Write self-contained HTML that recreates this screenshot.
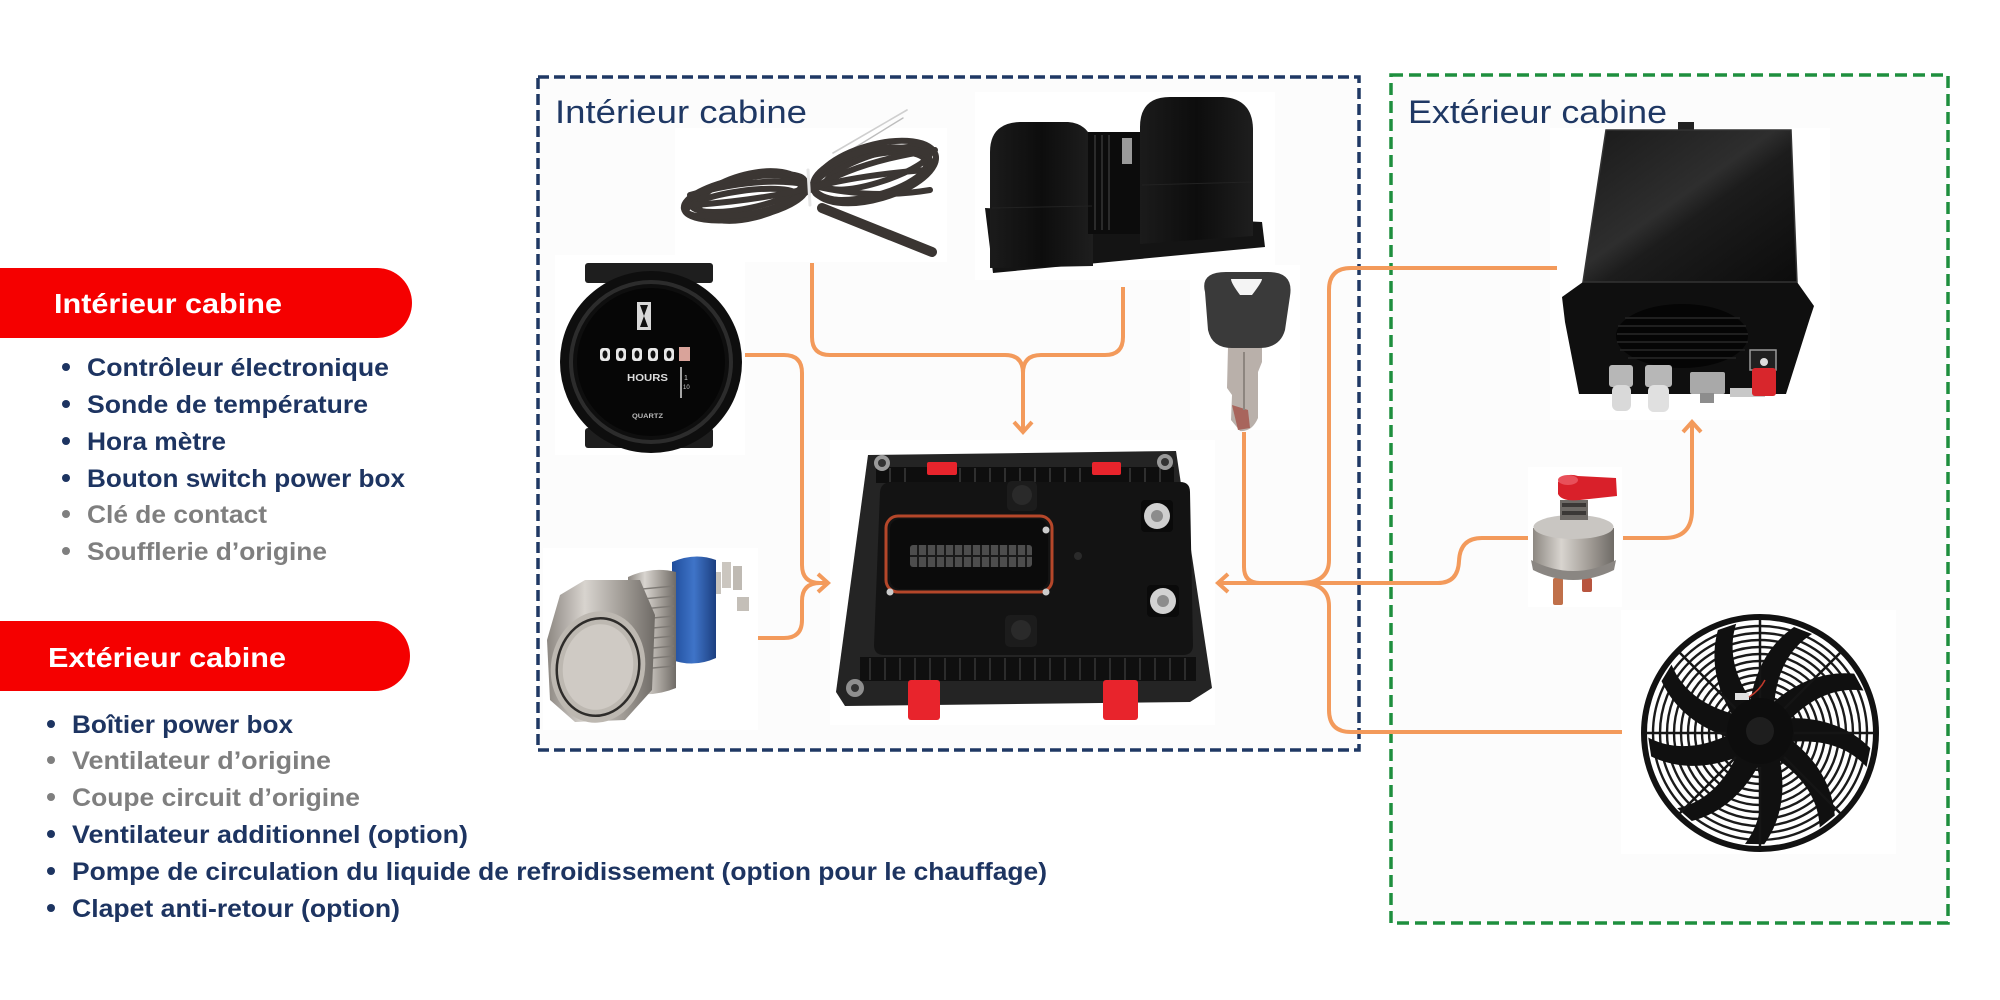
<!DOCTYPE html>
<html>
<head>
<meta charset="utf-8">
<style>
  html,body{margin:0;padding:0;background:#ffffff;}
  svg{display:block;}
  .lst{font-family:"Liberation Sans",Arial,sans-serif;font-weight:bold;font-size:25px;}
  .pill{font-family:"Liberation Sans",Arial,sans-serif;font-weight:bold;font-size:28px;fill:#ffffff;}
  .ttl{font-family:"Liberation Sans",Arial,sans-serif;font-size:32px;fill:#1f3864;}
  .con{fill:none;stroke:#f39a5b;stroke-width:4;}
</style>
</head>
<body>
<svg width="2000" height="1000" viewBox="0 0 2000 1000" xmlns="http://www.w3.org/2000/svg">
  <defs>
    <linearGradient id="metal" x1="0" y1="0" x2="1" y2="0">
      <stop offset="0" stop-color="#8d8882"/>
      <stop offset="0.35" stop-color="#d8d4cf"/>
      <stop offset="0.7" stop-color="#a19c96"/>
      <stop offset="1" stop-color="#6f6b66"/>
    </linearGradient>
    <linearGradient id="lid" x1="0" y1="0" x2="1" y2="1">
      <stop offset="0" stop-color="#1a1a1a"/>
      <stop offset="0.45" stop-color="#2e2e2e"/>
      <stop offset="0.55" stop-color="#1c1c1c"/>
      <stop offset="1" stop-color="#0c0c0c"/>
    </linearGradient>
    <linearGradient id="drum" x1="0" y1="0" x2="1" y2="0">
      <stop offset="0" stop-color="#1b1b1b"/>
      <stop offset="0.5" stop-color="#0d0d0d"/>
      <stop offset="1" stop-color="#1e1e1e"/>
    </linearGradient>
    <linearGradient id="blue" x1="0" y1="0" x2="1" y2="0">
      <stop offset="0" stop-color="#1f4d9c"/>
      <stop offset="0.5" stop-color="#3f74c8"/>
      <stop offset="1" stop-color="#1c3f80"/>
    </linearGradient>
  </defs>

  <rect x="0" y="0" width="2000" height="1000" fill="#ffffff"/>

  <!-- ===== LEFT LEGEND ===== -->
  <rect x="-40" y="268" width="452" height="70" rx="35" ry="35" fill="#f50000"/>
  <text class="pill" x="54" y="313" textLength="228" lengthAdjust="spacingAndGlyphs">Intérieur cabine</text>

  <g class="lst">
    <circle cx="66" cy="367" r="4" fill="#1d3461"/>
    <text x="87" y="376" fill="#1d3461" textLength="302" lengthAdjust="spacingAndGlyphs">Contrôleur électronique</text>
    <circle cx="66" cy="404" r="4" fill="#1d3461"/>
    <text x="87" y="413" fill="#1d3461" textLength="281" lengthAdjust="spacingAndGlyphs">Sonde de température</text>
    <circle cx="66" cy="441" r="4" fill="#1d3461"/>
    <text x="87" y="450" fill="#1d3461" textLength="139" lengthAdjust="spacingAndGlyphs">Hora mètre</text>
    <circle cx="66" cy="478" r="4" fill="#1d3461"/>
    <text x="87" y="487" fill="#1d3461" textLength="318" lengthAdjust="spacingAndGlyphs">Bouton switch power box</text>
    <circle cx="66" cy="514" r="4" fill="#7f7f7f"/>
    <text x="87" y="523" fill="#7f7f7f" textLength="180" lengthAdjust="spacingAndGlyphs">Clé de contact</text>
    <circle cx="66" cy="551" r="4" fill="#7f7f7f"/>
    <text x="87" y="560" fill="#7f7f7f" textLength="240" lengthAdjust="spacingAndGlyphs">Soufflerie d’origine</text>
  </g>

  <rect x="-40" y="621" width="450" height="70" rx="35" ry="35" fill="#f50000"/>
  <text class="pill" x="48" y="667" textLength="238" lengthAdjust="spacingAndGlyphs">Extérieur cabine</text>

  <g class="lst">
    <circle cx="51" cy="724" r="4" fill="#1d3461"/>
    <text x="72" y="733" fill="#1d3461" textLength="221" lengthAdjust="spacingAndGlyphs">Boîtier power box</text>
    <circle cx="51" cy="760" r="4" fill="#7f7f7f"/>
    <text x="72" y="769" fill="#7f7f7f" textLength="259" lengthAdjust="spacingAndGlyphs">Ventilateur d’origine</text>
    <circle cx="51" cy="797" r="4" fill="#7f7f7f"/>
    <text x="72" y="806" fill="#7f7f7f" textLength="288" lengthAdjust="spacingAndGlyphs">Coupe circuit d’origine</text>
    <circle cx="51" cy="834" r="4" fill="#1d3461"/>
    <text x="72" y="843" fill="#1d3461" textLength="396" lengthAdjust="spacingAndGlyphs">Ventilateur additionnel (option)</text>
    <circle cx="51" cy="871" r="4" fill="#1d3461"/>
    <text x="72" y="880" fill="#1d3461" textLength="975" lengthAdjust="spacingAndGlyphs">Pompe de circulation du liquide de refroidissement (option pour le chauffage)</text>
    <circle cx="51" cy="908" r="4" fill="#1d3461"/>
    <text x="72" y="917" fill="#1d3461" textLength="328" lengthAdjust="spacingAndGlyphs">Clapet anti-retour (option)</text>
  </g>

  <!-- ===== BOXES ===== -->
  <rect x="538" y="77" width="821" height="673" fill="#fcfcfc" stroke="#1f3864" stroke-width="3.5" stroke-dasharray="11 5"/>
  <rect x="1391" y="75" width="557" height="848" fill="#fcfcfc" stroke="#1e8f3e" stroke-width="3.5" stroke-dasharray="12 6"/>

  <!-- photo backgrounds -->
  <g fill="#ffffff">
    <rect x="675" y="128" width="272" height="134"/>
    <rect x="975" y="92" width="300" height="188"/>
    <rect x="555" y="255" width="190" height="200"/>
    <rect x="543" y="548" width="215" height="182"/>
    <rect x="1190" y="265" width="110" height="165"/>
    <rect x="830" y="440" width="385" height="285"/>
    <rect x="1550" y="128" width="280" height="292"/>
    <rect x="1528" y="467" width="94" height="140"/>
    <rect x="1621" y="610" width="275" height="244"/>
  </g>

  <text class="ttl" x="555" y="123" textLength="252" lengthAdjust="spacingAndGlyphs">Intérieur cabine</text>
  <text class="ttl" x="1408" y="123" textLength="259" lengthAdjust="spacingAndGlyphs">Extérieur cabine</text>

  <!-- ===== TEMPERATURE SENSOR ===== -->
  <g fill="none" stroke-linecap="round">
    <line x1="833" y1="153" x2="907" y2="110" stroke="#cfcfcf" stroke-width="1.6"/>
    <line x1="838" y1="158" x2="903" y2="118" stroke="#bdbdbd" stroke-width="1.4"/>
    <g stroke="#3b3633" stroke-width="6">
      <ellipse cx="745" cy="198" rx="62" ry="20" transform="rotate(-10 745 198)"/>
      <ellipse cx="748" cy="193" rx="58" ry="15" transform="rotate(-12 748 193)"/>
      <ellipse cx="742" cy="203" rx="56" ry="12" transform="rotate(-8 742 203)"/>
      <ellipse cx="750" cy="196" rx="52" ry="22" transform="rotate(-14 750 196)"/>
      <ellipse cx="875" cy="172" rx="63" ry="27" transform="rotate(-16 875 172)"/>
      <ellipse cx="870" cy="176" rx="58" ry="20" transform="rotate(-14 870 176)"/>
      <ellipse cx="878" cy="168" rx="55" ry="14" transform="rotate(-18 878 168)"/>
      <ellipse cx="872" cy="174" rx="60" ry="24" transform="rotate(-12 872 174)"/>
      <path d="M700 215 Q760 222 810 190 Q860 160 935 150"/>
      <path d="M690 195 Q760 175 810 185 Q870 200 930 190"/>
      <path d="M695 205 Q760 200 810 188 Q860 175 925 170"/>
    </g>
    <line x1="822" y1="208" x2="932" y2="252" stroke="#3a3532" stroke-width="10"/>
    <line x1="808" y1="170" x2="810" y2="205" stroke="#e6e6e6" stroke-width="3"/>
  </g>

  <!-- ===== BLOWER ===== -->
  <g>
    <polygon points="985,208 1262,222 1265,247 993,273" fill="#141414"/>
    <path d="M990 268 V152 Q990 123 1020 122 H1068 Q1093 124 1093 152 V266 Z" fill="url(#drum)"/>
    <rect x="1088" y="132" width="60" height="102" fill="#0c0c0c"/>
    <g stroke="#2b2b2b" stroke-width="2">
      <line x1="1095" y1="135" x2="1095" y2="230"/>
      <line x1="1102" y1="135" x2="1102" y2="230"/>
      <line x1="1109" y1="135" x2="1109" y2="230"/>
    </g>
    <rect x="1122" y="138" width="10" height="26" fill="#9a9a9a"/>
    <path d="M1140 244 V127 Q1140 97 1170 97 H1223 Q1253 99 1253 130 V236 Z" fill="url(#drum)"/>
    <line x1="1142" y1="185" x2="1252" y2="182" stroke="#222" stroke-width="1"/>
    <line x1="992" y1="208" x2="1092" y2="206" stroke="#222" stroke-width="1"/>
  </g>

  <!-- ===== HOUR METER ===== -->
  <g>
    <rect x="585" y="263" width="128" height="20" rx="3" fill="#1e1e1e"/>
    <rect x="585" y="428" width="128" height="20" rx="3" fill="#1e1e1e"/>
    <circle cx="651" cy="362" r="91" fill="#0e0e0e"/>
    <circle cx="651" cy="362" r="80" fill="none" stroke="#2c2c2c" stroke-width="4"/>
    <circle cx="651" cy="362" r="74" fill="#060606"/>
    <rect x="637" y="302" width="14" height="28" fill="#d8d8d8"/>
    <path d="M640 305 H648 L644 316 L648 327 H640 L644 316 Z" fill="#111"/>
    <g fill="#e8e8e8">
      <rect x="600" y="348" width="10" height="13" rx="3"/>
      <rect x="616" y="348" width="10" height="13" rx="3"/>
      <rect x="632" y="348" width="10" height="13" rx="3"/>
      <rect x="648" y="348" width="10" height="13" rx="3"/>
      <rect x="664" y="348" width="10" height="13" rx="3"/>
    </g>
    <g fill="#111">
      <ellipse cx="605" cy="354.5" rx="2.5" ry="4"/>
      <ellipse cx="621" cy="354.5" rx="2.5" ry="4"/>
      <ellipse cx="637" cy="354.5" rx="2.5" ry="4"/>
      <ellipse cx="653" cy="354.5" rx="2.5" ry="4"/>
      <ellipse cx="669" cy="354.5" rx="2.5" ry="4"/>
    </g>
    <rect x="679" y="347" width="11" height="14" fill="#d9a39a"/>
    <text x="627" y="381" font-family="Liberation Sans, Arial, sans-serif" font-weight="bold" font-size="10" fill="#dcdcdc" textLength="41" lengthAdjust="spacingAndGlyphs">HOURS</text>
    <line x1="681" y1="367" x2="681" y2="398" stroke="#dcdcdc" stroke-width="1.5"/>
    <text x="684" y="380" font-family="Liberation Sans, Arial, sans-serif" font-size="7" fill="#cfcfcf">1</text>
    <text x="683" y="389" font-family="Liberation Sans, Arial, sans-serif" font-size="6" fill="#cfcfcf">10</text>
    <text x="632" y="418" font-family="Liberation Sans, Arial, sans-serif" font-weight="bold" font-size="6" fill="#bdbdbd" textLength="31" lengthAdjust="spacingAndGlyphs">QUARTZ</text>
  </g>

  <!-- ===== PUSH BUTTON SWITCH ===== -->
  <g>
    <rect x="712" y="572" width="9" height="22" fill="#c9c4bd"/>
    <rect x="722" y="562" width="9" height="26" fill="#cbc6bf"/>
    <rect x="733" y="566" width="9" height="24" fill="#bfbab3"/>
    <rect x="737" y="597" width="12" height="14" fill="#c4bfb8"/>
    <path d="M672 562 Q695 552 716 560 L716 658 Q694 668 672 660 Z" fill="url(#blue)"/>
    <path d="M628 577 Q652 566 676 572 L676 688 Q652 698 628 692 Z" fill="url(#metal)"/>
    <g stroke="#7e7a75" stroke-width="1.4">
      <line x1="632" y1="590" x2="674" y2="586"/>
      <line x1="632" y1="600" x2="674" y2="596"/>
      <line x1="632" y1="610" x2="674" y2="606"/>
      <line x1="632" y1="620" x2="674" y2="616"/>
      <line x1="632" y1="630" x2="674" y2="626"/>
      <line x1="632" y1="640" x2="674" y2="636"/>
      <line x1="632" y1="650" x2="674" y2="646"/>
      <line x1="632" y1="660" x2="674" y2="656"/>
      <line x1="632" y1="670" x2="674" y2="666"/>
    </g>
    <path d="M560 595 L585 580 L640 580 L655 615 L652 690 L625 720 L575 722 L550 700 L547 640 Z" fill="url(#metal)"/>
    <ellipse cx="598" cy="667" rx="47" ry="56" transform="rotate(10 598 667)" fill="#bdb8b1"/>
    <ellipse cx="598" cy="667" rx="41" ry="49" transform="rotate(10 598 667)" fill="none" stroke="#2e2c2a" stroke-width="2.5"/>
    <ellipse cx="598" cy="667" rx="35" ry="43" transform="rotate(10 598 667)" fill="#cfcac4"/>
  </g>

  <!-- ===== KEY ===== -->
  <g>
    <path d="M1228 347 H1262 V362 L1258 372 V418 Q1252 432 1240 431 L1231 420 L1232 395 L1227 388 Z" fill="#b9b0aa"/>
    <path d="M1232 405 L1248 410 L1250 428 L1238 430 Z" fill="#a8655c"/>
    <line x1="1244" y1="352" x2="1244" y2="410" stroke="#8d857f" stroke-width="2"/>
    <path d="M1205 292 Q1200 272 1226 272 H1268 Q1294 272 1290 296 L1285 330 Q1280 348 1259 348 H1232 Q1212 348 1208 330 Z" fill="#3a3a3a"/>
    <path d="M1231 279 H1262 Q1262 282 1252 295 H1240 Q1231 283 1231 279 Z" fill="#f4f4f4"/>
  </g>

  <!-- ===== CONTROLLER ===== -->
  <g>
    <polygon points="868,455 1176,451 1212,688 1190,702 845,706 836,692" fill="#242424"/>
    <rect x="876" y="467" width="298" height="16" fill="#0e0e0e"/>
    <g stroke="#3a3a3a" stroke-width="1.5">
      <line x1="890" y1="468" x2="890" y2="482"/><line x1="905" y1="468" x2="905" y2="482"/>
      <line x1="960" y1="468" x2="960" y2="482"/><line x1="975" y1="468" x2="975" y2="482"/>
      <line x1="990" y1="468" x2="990" y2="482"/><line x1="1005" y1="468" x2="1005" y2="482"/>
      <line x1="1020" y1="468" x2="1020" y2="482"/><line x1="1035" y1="468" x2="1035" y2="482"/>
      <line x1="1050" y1="468" x2="1050" y2="482"/><line x1="1065" y1="468" x2="1065" y2="482"/>
      <line x1="1080" y1="468" x2="1080" y2="482"/><line x1="1130" y1="468" x2="1130" y2="482"/>
      <line x1="1145" y1="468" x2="1145" y2="482"/><line x1="1160" y1="468" x2="1160" y2="482"/>
    </g>
    <path d="M892 482 H1180 Q1190 482 1190 492 L1193 645 Q1193 655 1183 655 H884 Q874 655 874 645 L880 492 Q881 482 892 482 Z" fill="#131313"/>
    <rect x="860" y="657" width="336" height="24" fill="#0f0f0f"/>
    <g stroke="#363636" stroke-width="1.5">
      <line x1="870" y1="658" x2="870" y2="680"/><line x1="885" y1="658" x2="885" y2="680"/>
      <line x1="900" y1="658" x2="900" y2="680"/><line x1="915" y1="658" x2="915" y2="680"/>
      <line x1="930" y1="658" x2="930" y2="680"/><line x1="945" y1="658" x2="945" y2="680"/>
      <line x1="960" y1="658" x2="960" y2="680"/><line x1="975" y1="658" x2="975" y2="680"/>
      <line x1="990" y1="658" x2="990" y2="680"/><line x1="1005" y1="658" x2="1005" y2="680"/>
      <line x1="1020" y1="658" x2="1020" y2="680"/><line x1="1035" y1="658" x2="1035" y2="680"/>
      <line x1="1050" y1="658" x2="1050" y2="680"/><line x1="1065" y1="658" x2="1065" y2="680"/>
      <line x1="1080" y1="658" x2="1080" y2="680"/><line x1="1095" y1="658" x2="1095" y2="680"/>
      <line x1="1110" y1="658" x2="1110" y2="680"/><line x1="1125" y1="658" x2="1125" y2="680"/>
      <line x1="1140" y1="658" x2="1140" y2="680"/><line x1="1155" y1="658" x2="1155" y2="680"/>
      <line x1="1170" y1="658" x2="1170" y2="680"/><line x1="1185" y1="658" x2="1185" y2="680"/>
    </g>
    <rect x="927" y="462" width="30" height="13" rx="2" fill="#e8242c"/>
    <rect x="1092" y="462" width="29" height="13" rx="2" fill="#e8242c"/>
    <rect x="908" y="680" width="32" height="40" rx="3" fill="#e8242c"/>
    <rect x="1103" y="680" width="35" height="40" rx="3" fill="#e8242c"/>
    <circle cx="882" cy="463" r="8" fill="#9a9a9a"/><circle cx="882" cy="463" r="4" fill="#333"/>
    <circle cx="1165" cy="462" r="8" fill="#9a9a9a"/><circle cx="1165" cy="462" r="4" fill="#333"/>
    <circle cx="855" cy="688" r="9" fill="#8f8f8f"/><circle cx="855" cy="688" r="4" fill="#333"/>
    <rect x="886" y="516" width="166" height="76" rx="12" fill="none" stroke="#b5472a" stroke-width="3"/>
    <rect x="890" y="519" width="158" height="70" rx="10" fill="#0b0b0b"/>
    <rect x="910" y="545" width="122" height="22" rx="3" fill="#4d4d4d"/>
    <g stroke="#1a1a1a" stroke-width="2">
      <line x1="918" y1="545" x2="918" y2="567"/><line x1="927" y1="545" x2="927" y2="567"/>
      <line x1="936" y1="545" x2="936" y2="567"/><line x1="945" y1="545" x2="945" y2="567"/>
      <line x1="954" y1="545" x2="954" y2="567"/><line x1="963" y1="545" x2="963" y2="567"/>
      <line x1="972" y1="545" x2="972" y2="567"/><line x1="981" y1="545" x2="981" y2="567"/>
      <line x1="990" y1="545" x2="990" y2="567"/><line x1="999" y1="545" x2="999" y2="567"/>
      <line x1="1008" y1="545" x2="1008" y2="567"/><line x1="1017" y1="545" x2="1017" y2="567"/>
      <line x1="1026" y1="545" x2="1026" y2="567"/>
      <line x1="910" y1="556" x2="1032" y2="556"/>
    </g>
    <circle cx="1046" cy="530" r="3.5" fill="#ccc"/><circle cx="1046" cy="592" r="3.5" fill="#ccc"/>
    <circle cx="890" cy="592" r="3.5" fill="#ccc"/>
    <rect x="1007" y="481" width="30" height="30" rx="5" fill="#1c1c1c"/><circle cx="1022" cy="495" r="10" fill="#2a2a2a"/>
    <rect x="1005" y="615" width="32" height="32" rx="5" fill="#1c1c1c"/><circle cx="1021" cy="630" r="10" fill="#2a2a2a"/>
    <circle cx="1078" cy="556" r="4" fill="#2a2a2a"/>
    <rect x="1141" y="500" width="32" height="32" rx="4" fill="#0a0a0a"/>
    <circle cx="1157" cy="516" r="13" fill="#cfcfcf"/><circle cx="1157" cy="516" r="6" fill="#8c8c8c"/>
    <rect x="1147" y="585" width="32" height="32" rx="4" fill="#0a0a0a"/>
    <circle cx="1163" cy="601" r="13" fill="#d2d2d2"/><circle cx="1163" cy="601" r="6" fill="#8c8c8c"/>
  </g>

  <!-- ===== POWER BOX ===== -->
  <g>
    <rect x="1678" y="122" width="16" height="10" fill="#222"/>
    <polygon points="1583,282 1562,297 1565,322 1579,394 1786,394 1810,318 1814,306 1797,282" fill="#0f0f0f"/>
    <polygon points="1606,130 1791,130 1797,282 1583,282" fill="url(#lid)"/>
    <polygon points="1606,130 1791,130 1797,282 1583,282" fill="none" stroke="#333" stroke-width="1.5"/>
    <ellipse cx="1682" cy="336" rx="66" ry="32" fill="#050505"/>
    <g stroke="#1f1f1f" stroke-width="2">
      <line x1="1625" y1="318" x2="1740" y2="318"/><line x1="1618" y1="326" x2="1746" y2="326"/>
      <line x1="1617" y1="334" x2="1748" y2="334"/><line x1="1617" y1="342" x2="1748" y2="342"/>
      <line x1="1620" y1="350" x2="1745" y2="350"/><line x1="1628" y1="358" x2="1736" y2="358"/>
    </g>
    <rect x="1609" y="365" width="24" height="22" rx="3" fill="#b7b7b7"/>
    <rect x="1612" y="385" width="19" height="26" rx="6" fill="#d9d9d9"/>
    <rect x="1645" y="365" width="27" height="22" rx="3" fill="#b7b7b7"/>
    <rect x="1648" y="385" width="21" height="27" rx="6" fill="#e0e0e0"/>
    <rect x="1690" y="372" width="35" height="22" rx="2" fill="#a9a9a9"/>
    <rect x="1700" y="393" width="14" height="10" fill="#8d8d8d"/>
    <rect x="1730" y="388" width="35" height="9" fill="#c8c8c8"/>
    <rect x="1750" y="350" width="26" height="20" fill="#202020" stroke="#9a9a9a" stroke-width="1.5"/>
    <rect x="1752" y="368" width="24" height="28" rx="3" fill="#d8262c"/>
    <circle cx="1764" cy="362" r="4" fill="#ddd"/>
  </g>

  <!-- ===== BATTERY SWITCH ===== -->
  <g>
    <rect x="1553" y="578" width="10" height="27" rx="2" fill="#c0704a"/>
    <rect x="1582" y="578" width="10" height="14" rx="2" fill="#b8553f"/>
    <path d="M1533 528 L1533 565 Q1573 585 1614 565 L1614 528 Z" fill="url(#metal)"/>
    <ellipse cx="1573.5" cy="527" rx="40" ry="12" fill="#c9c6c2"/>
    <path d="M1531 560 Q1573 582 1616 560 L1614 570 Q1573 590 1533 570 Z" fill="#8a8682"/>
    <rect x="1560" y="500" width="28" height="20" fill="#6e6a66"/>
    <rect x="1562" y="503" width="24" height="4" fill="#3b3836"/>
    <rect x="1562" y="511" width="24" height="4" fill="#3b3836"/>
    <path d="M1558 482 Q1565 472 1578 476 L1616 478 L1617 496 L1580 500 Q1562 502 1558 494 Z" fill="#d9202a"/>
    <ellipse cx="1568" cy="480" rx="10" ry="5" fill="#e8505a"/>
  </g>

  <!-- ===== FAN ===== -->
  <g>
    <circle cx="1760" cy="733" r="116" fill="#ffffff" stroke="#121212" stroke-width="6"/>
    <g fill="none" stroke="#1a1a1a" stroke-width="2.4">
      <circle cx="1760" cy="733" r="107"/>
      <circle cx="1760" cy="733" r="100"/>
      <circle cx="1760" cy="733" r="93"/>
      <circle cx="1760" cy="733" r="86"/>
      <circle cx="1760" cy="733" r="79"/>
      <circle cx="1760" cy="733" r="72"/>
      <circle cx="1760" cy="733" r="65"/>
      <circle cx="1760" cy="733" r="58"/>
      <circle cx="1760" cy="733" r="51"/>
      <circle cx="1760" cy="733" r="44"/>
      <circle cx="1760" cy="733" r="37"/>
    </g>
    <g fill="#101010" transform="translate(1760 733)">
      <path id="bl" d="M-10 -28 C-6 -60 8 -88 34 -106 L52 -99 C28 -84 16 -58 14 -26 Z"/>
      <use href="#bl" transform="rotate(40)"/>
      <use href="#bl" transform="rotate(80)"/>
      <use href="#bl" transform="rotate(120)"/>
      <use href="#bl" transform="rotate(160)"/>
      <use href="#bl" transform="rotate(200)"/>
      <use href="#bl" transform="rotate(240)"/>
      <use href="#bl" transform="rotate(280)"/>
      <use href="#bl" transform="rotate(320)"/>
    </g>
    <g stroke="#151515" stroke-width="2.5" transform="translate(1760 733)">
      <line x1="0" y1="-34" x2="0" y2="-115"/>
      <line x1="0" y1="34" x2="0" y2="115"/>
      <line x1="-34" y1="0" x2="-115" y2="0"/>
      <line x1="34" y1="0" x2="115" y2="0"/>
      <line x1="24" y1="24" x2="81" y2="81"/>
      <line x1="-24" y1="24" x2="-81" y2="81"/>
      <line x1="24" y1="-24" x2="81" y2="-81"/>
      <line x1="-24" y1="-24" x2="-81" y2="-81"/>
    </g>
    <circle cx="1760" cy="731" r="33" fill="#0d0d0d"/>
    <circle cx="1760" cy="731" r="14" fill="#1e1e1e"/>
    <rect x="1735" y="693" width="14" height="7" fill="#e0e0e0"/>
    <path d="M1749 697 Q1760 690 1765 680" stroke="#c0392b" stroke-width="1.5" fill="none"/>
  </g>

  <!-- ===== CONNECTORS ===== -->
  <g class="con">
    <path d="M812 263 V337 Q812 355 830 355 H1005 Q1023 355 1023 373 V431"/>
    <path d="M1123 287 V337 Q1123 355 1105 355 H1041 Q1023 355 1023 373"/>
    <path d="M1014 422 L1023 432 L1032 422"/>
    <path d="M745 355 H784 Q802 355 802 373 V565 Q802 583 820 583 H826"/>
    <path d="M758 638 H784 Q802 638 802 620 V601 Q802 583 820 583"/>
    <path d="M818 574 L828 583 L818 592"/>
    <path d="M1244 432 V567 Q1244 583 1260 583"/>
    <path d="M1220 583 H1308"/>
    <path d="M1228 574 L1218 583 L1228 592"/>
    <path d="M1300 583 Q1329 583 1329 560 V290 Q1329 268 1351 268 H1557"/>
    <path d="M1300 583 Q1329 583 1329 606 V710 Q1329 732 1351 732 H1622"/>
    <path d="M1308 583 H1438 Q1458 583 1459 561 Q1460 538 1482 538 H1528"/>
    <path d="M1623 538 H1664 Q1692 538 1692 510 V424"/>
    <path d="M1683 432 L1692 422 L1701 432"/>
  </g>
</svg>
</body>
</html>
